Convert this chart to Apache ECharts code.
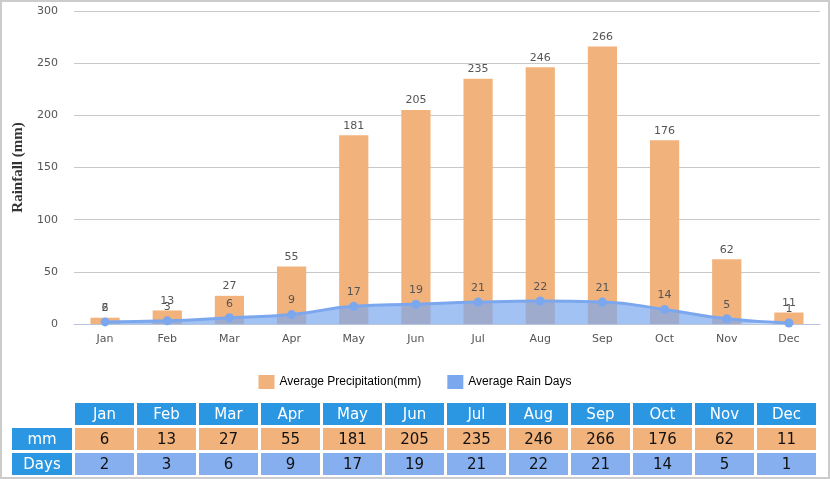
<!DOCTYPE html>
<html>
<head>
<meta charset="utf-8">
<script src="https://cdn.jsdelivr.net/npm/echarts@6/dist/echarts.min.js"></script>
<style>
html,body{margin:0;padding:0;background:#fff;}
#wrap{position:relative;width:830px;height:479px;overflow:hidden;}
#chart{position:absolute;left:0;top:0;width:830px;height:479px;}
#frame{position:absolute;left:0;top:0;width:830px;height:479px;box-sizing:border-box;border:2px solid #cccccc;pointer-events:none;}
#tbl{position:absolute;left:9px;top:400px;border-collapse:separate;border-spacing:3px;font-family:"DejaVu Sans",Verdana,sans-serif;font-size:15px;}
#tbl td{height:22px;padding:0;text-align:center;width:59px;}
#tbl td.h{background:#2b97e3;color:#fff;}
#tbl td.rh{background:#2b97e3;color:#fff;width:60px;}
#tbl td.e{background:#fff;width:60px;}
#tbl td.mm{background:#f2b27c;color:#111;}
#tbl td.dy{background:#86aff0;color:#111;}
</style>
</head>
<body>
<div id="wrap">
<div id="chart"></div>
<table id="tbl"></table>
<div id="frame"></div>
</div>
<script>
const months = ["Jan","Feb","Mar","Apr","May","Jun","Jul","Aug","Sep","Oct","Nov","Dec"];
const precipitation = [6,13,27,55,181,205,235,246,266,176,62,11];
const rainDays = [2,3,6,9,17,19,21,22,21,14,5,1];
const yTicks = {min:0, max:300, interval:50};

const chart = echarts.init(document.getElementById('chart'));
chart.setOption({
  animation:false,
  grid:{left:74,right:10,top:11,bottom:155},
  legend:{
    data:[{name:'Average Precipitation(mm)',icon:'rect'},{name:'Average Rain Days',icon:'rect'}],
    top:370,left:'center',itemWidth:16,itemHeight:14,itemGap:26,
    textStyle:{fontFamily:'Liberation Sans, Arial, sans-serif',fontSize:12,color:'#000'}
  },
  xAxis:{
    type:'category',data:months,boundaryGap:true,
    axisLine:{lineStyle:{color:'#b7c6da'}},
    axisTick:{alignWithLabel:false,length:6,lineStyle:{color:'#b7c6da'}},
    axisLabel:{color:'#555',fontSize:11,fontFamily:'DejaVu Sans, Verdana, sans-serif',margin:10}
  },
  yAxis:{
    type:'value',min:yTicks.min,max:yTicks.max,interval:yTicks.interval,
    name:'Rainfall (mm)',nameLocation:'middle',nameGap:48,
    nameTextStyle:{color:'#333',fontSize:15,fontFamily:'Liberation Serif, Times New Roman, serif',fontWeight:'bold'},
    axisLine:{show:false},axisTick:{show:false},
    axisLabel:{color:'#555',fontSize:11,fontFamily:'DejaVu Sans, Verdana, sans-serif',margin:16},
    splitLine:{lineStyle:{color:'#c8c8c8'}}
  },
  series:[
    {
      name:'Average Precipitation(mm)',type:'bar',data:precipitation,barWidth:'47%',
      itemStyle:{color:'#f2b27c'},
      label:{show:true,position:'top',color:'#555',fontSize:11,fontFamily:'DejaVu Sans, Verdana, sans-serif',distance:4}
    },
    {
      name:'Average Rain Days',type:'line',data:rainDays,smooth:true,
      symbol:'circle',symbolSize:9,
      itemStyle:{color:'#7ba7ef'},
      lineStyle:{color:'#7ba7ef',width:3},
      areaStyle:{color:'#7aa8f0',opacity:0.7},
      label:{show:true,position:'top',color:'#555',fontSize:11,fontFamily:'DejaVu Sans, Verdana, sans-serif',distance:4}
    }
  ]
});

const tbl = document.getElementById('tbl');
let html = '<tr><td class="e"></td>' + months.map(m=>'<td class="h">'+m+'</td>').join('') + '</tr>';
html += '<tr><td class="rh">mm</td>' + precipitation.map(v=>'<td class="mm">'+v+'</td>').join('') + '</tr>';
html += '<tr><td class="rh">Days</td>' + rainDays.map(v=>'<td class="dy">'+v+'</td>').join('') + '</tr>';
tbl.innerHTML = html;
</script>
</body>
</html>
